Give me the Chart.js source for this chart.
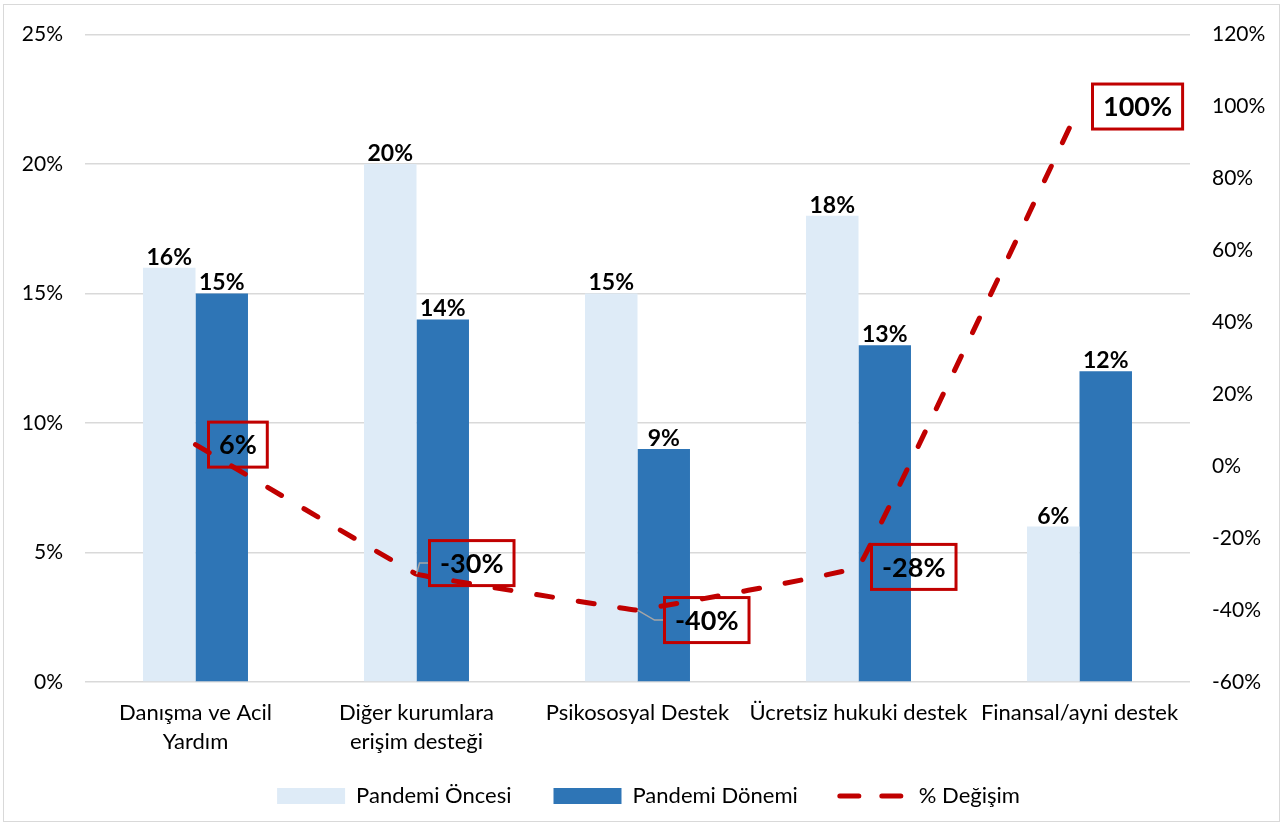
<!DOCTYPE html>
<html>
<head>
<meta charset="utf-8">
<script src="https://cdn.jsdelivr.net/npm/chart.js@4.4.0/dist/chart.umd.min.js"></script>
<style>
  body { margin: 0; background: #fff; }
  #wrap { width: 1283px; height: 825px; position: relative; }
</style>
</head>
<body>
<div id="wrap"><canvas id="myChart"></canvas></div>
<script>
const categories = [
  ['Danışma ve Acil', 'Yardım'],
  ['Diğer kurumlara', 'erişim desteği'],
  'Psikososyal Destek',
  'Ücretsiz hukuki destek',
  'Finansal/ayni destek'
];
const pandemiOncesi = [16, 20, 15, 18, 6];
const pandemiDonemi = [15, 14, 9, 13, 12];
const degisim = [6, -30, -40, -28, 100];

const FONT = 'Lato, "Open Sans", sans-serif';
const RED = '#C00000';

// outer frame like the excel chart border
const framePlugin = {
  id: 'frame',
  beforeDraw(chart) {
    const ctx = chart.ctx;
    ctx.save();
    ctx.fillStyle = '#fff';
    ctx.fillRect(0, 0, chart.width, chart.height);
    ctx.strokeStyle = '#d9d9d9';
    ctx.lineWidth = 1;
    ctx.strokeRect(3.5, 4.5, chart.width - 7, chart.height - 8);
    ctx.restore();
  }
};

// legend sits a bit higher than chart.js puts it, and the two-line
// category labels need room below the x axis box
const nudgePlugin = {
  id: 'nudge',
  afterLayout(chart) {
    chart.legend.top -= 8;
    chart.legend.bottom -= 8;
    chart.legend.left += 7;
    chart.legend.right += 7;
    chart.scales.x.bottom += 14;
  }
};

// value labels: above bars, boxed labels beside the line points
const labelsPlugin = {
  id: 'valueLabels',
  afterDatasetsDraw(chart) {
    const ctx = chart.ctx;
    ctx.save();
    [0, 1].forEach(di => {
      const meta = chart.getDatasetMeta(di);
      const data = chart.data.datasets[di].data;
      ctx.font = 'bold 23px ' + FONT;
      ctx.fillStyle = '#000';
      ctx.textAlign = 'center';
      ctx.textBaseline = 'bottom';
      meta.data.forEach((bar, i) => {
        ctx.fillText(data[i] + '%', bar.x, bar.y + 1);
      });
    });

    // a couple of boxes were dragged off the point in the original
    const shiftY = { 1: -11, 2: 10 };
    const shiftX = { 2: 14 };
    const meta = chart.getDatasetMeta(2);
    const data = chart.data.datasets[2].data;
    ctx.font = 'bold 27px ' + FONT;
    meta.data.forEach((pt, i) => {
      const txt = data[i] + '%';
      const w = ctx.measureText(txt).width + 21;
      const h = 45;
      const left = pt.x + 13 + (shiftX[i] || 0);
      const cy = pt.y + (shiftY[i] || 0);
      const top = cy - h / 2;
      if (shiftY[i]) {
        // leader line only for the moved labels
        ctx.strokeStyle = '#a6a6a6';
        ctx.lineWidth = 1.5;
        ctx.beginPath();
        ctx.moveTo(pt.x, pt.y);
        ctx.lineTo(left - 10, cy);
        ctx.lineTo(left, cy);
        ctx.stroke();
      }
      ctx.strokeStyle = RED;
      ctx.lineWidth = 3;
      ctx.strokeRect(left, top, w, h);
      ctx.fillStyle = '#000';
      ctx.textAlign = 'center';
      ctx.textBaseline = 'middle';
      ctx.fillText(txt, left + w / 2, cy + 1);
    });
    ctx.restore();
  }
};

new Chart(document.getElementById('myChart'), {
  data: {
    labels: categories,
    datasets: [
      {
        type: 'bar',
        label: 'Pandemi Öncesi',
        data: pandemiOncesi,
        backgroundColor: '#DEEBF7',
        yAxisID: 'y',
        categoryPercentage: 0.475,
        barPercentage: 1,
        order: 2
      },
      {
        type: 'bar',
        label: 'Pandemi Dönemi',
        data: pandemiDonemi,
        backgroundColor: '#2E75B6',
        yAxisID: 'y',
        categoryPercentage: 0.475,
        barPercentage: 1,
        order: 2
      },
      {
        type: 'line',
        label: '% Değişim',
        data: degisim,
        borderColor: RED,
        backgroundColor: RED,
        borderWidth: 5,
        borderDash: [16, 26],
        borderCapStyle: 'round',
        tension: 0.03,
        pointRadius: 0,
        yAxisID: 'y1',
        order: 1
      }
    ]
  },
  options: {
    responsive: true,
    maintainAspectRatio: false,
    animation: false,
    layout: { padding: { top: 34, left: 0, right: 0, bottom: 0 } },
    plugins: {
      tooltip: { enabled: false },
      legend: {
        position: 'bottom',
        labels: {
          font: { family: FONT, size: 22 },
          color: '#000',
          usePointStyle: true,
          pointStyleWidth: 68,
          boxHeight: 16,
          padding: 42,
          sort: (a, b) => a.datasetIndex - b.datasetIndex,
          generateLabels(chart) {
            const items = Chart.defaults.plugins.legend.labels.generateLabels(chart);
            items.forEach(it => {
              const ds = chart.data.datasets[it.datasetIndex];
              if (ds.type === 'line') {
                it.pointStyle = 'line';
                it.lineWidth = 5;
                it.lineDash = [19, 23];
                it.lineCap = 'round';
                it.strokeStyle = RED;
              } else {
                it.pointStyle = 'rect';
                it.lineWidth = 0;
                it.strokeStyle = ds.backgroundColor;
              }
            });
            return items;
          }
        }
      }
    },
    scales: {
      x: {
        grid: { display: false, drawTicks: false },
        border: { display: false },
        ticks: {
          font: { family: FONT, size: 22, lineHeight: 1.32 },
          color: '#000',
          maxRotation: 0,
          padding: 16
        },
        afterFit(scale) { scale.height = 69; }
      },
      y: {
        position: 'left',
        min: 0,
        max: 25,
        ticks: {
          stepSize: 5,
          callback: v => v + '%',
          font: { family: FONT, size: 21 },
          color: '#000',
          padding: 22
        },
        grid: { color: '#d9d9d9', lineWidth: 1.5, drawTicks: false },
        border: { display: false },
        afterFit(scale) { scale.width = 85; }
      },
      y1: {
        position: 'right',
        min: -60,
        max: 120,
        ticks: {
          stepSize: 20,
          callback: v => v + '%',
          font: { family: FONT, size: 21 },
          color: '#000',
          padding: 22
        },
        grid: { display: false, drawTicks: false },
        border: { display: false },
        afterFit(scale) { scale.width = 93; }
      }
    }
  },
  plugins: [framePlugin, nudgePlugin, labelsPlugin]
});
</script>
</body>
</html>
